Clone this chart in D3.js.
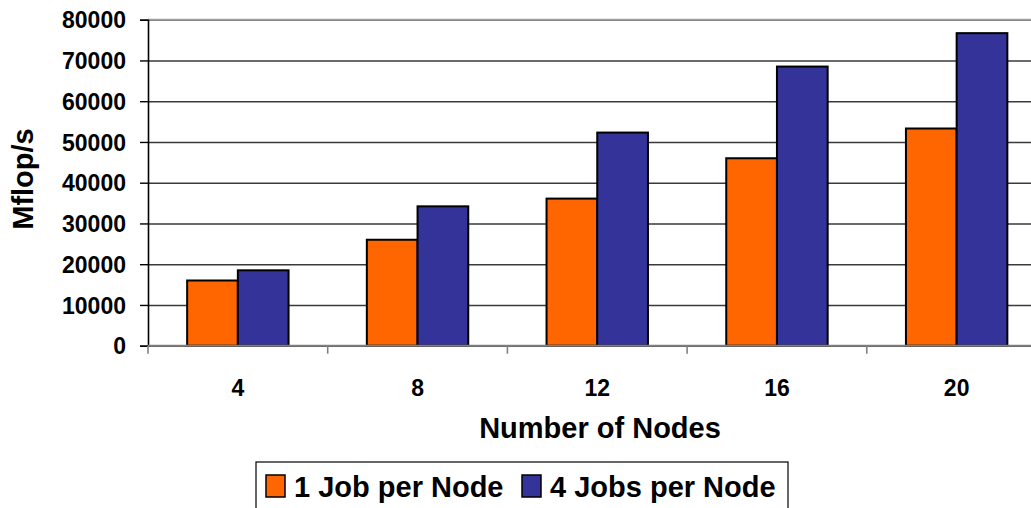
<!DOCTYPE html>
<html>
<head>
<meta charset="utf-8">
<script src="https://cdnjs.cloudflare.com/ajax/libs/d3/7.8.5/d3.min.js"></script>
<style>
  body { margin: 0; background: #fff; }
  svg { display: block; }
  svg text { font-family: "Liberation Sans", Arial, sans-serif; font-weight: bold; fill: #000; }
</style>
</head>
<body>
<div id="chart"></div>
<script>
// data
var nodes = ["4", "8", "12", "16", "20"];
var seriesNames = ["1 Job per Node", "4 Jobs per Node"];
var oneJob = [16000, 26000, 36100, 46000, 53300];
var fourJobs = [18500, 34200, 52300, 68500, 76700];
var yTicks = [0, 10000, 20000, 30000, 40000, 50000, 60000, 70000, 80000];
var colors = ["#ff6600", "#333399"];

var width = 1031,
  height = 508;
var margin = { left: 148, top: 19.7, right: -15.5, bottom: 162.3 };
var innerWidth = width - margin.left - margin.right;
var innerHeight = height - margin.top - margin.bottom;

var rows = nodes.map(function (n, i) {
  return { node: n, values: [oneJob[i], fourJobs[i]] };
});

var x0 = d3.scaleBand().domain(nodes).range([0, innerWidth]);
var x1 = d3.scaleBand().domain(seriesNames).range([0, x0.bandwidth()]).paddingOuter(0.772);
var y = d3.scaleLinear().domain([0, 80000]).range([innerHeight, 0]);
var color = d3.scaleOrdinal().domain(seriesNames).range(colors);

var svg = d3
  .select("#chart")
  .append("svg")
  .attr("width", width)
  .attr("height", height)
  .attr("overflow", "hidden");

var g = svg.append("g").attr("transform", "translate(" + margin.left + "," + margin.top + ")");

// gridlines (no labels)
g.append("g")
  .attr("class", "grid")
  .call(d3.axisLeft(y).tickValues(yTicks).tickSize(-innerWidth).tickFormat(""))
  .call(function (s) {
    s.select(".domain").remove();
    s.selectAll("text").remove();
    s.selectAll("line").attr("stroke", "#3a3a3a").attr("stroke-width", 1.4);
  });

// top border of plot area
g.append("line")
  .attr("x1", 0).attr("x2", innerWidth)
  .attr("y1", y(80000)).attr("y2", y(80000))
  .attr("stroke", "#a0a0a0").attr("stroke-width", 2);

// bars
var grp = g.selectAll(".grp").data(rows).enter().append("g")
  .attr("transform", function (d) { return "translate(" + x0(d.node) + ",0)"; });

grp.selectAll("rect")
  .data(function (d) {
    return seriesNames.map(function (s, i) { return { key: s, value: d.values[i] }; });
  })
  .enter()
  .append("rect")
  .attr("x", function (d) { return x1(d.key); })
  .attr("width", x1.bandwidth())
  .attr("y", function (d) { return y(d.value); })
  .attr("height", function (d) { return innerHeight - y(d.value); })
  .attr("fill", function (d) { return color(d.key); })
  .attr("stroke", "#000")
  .attr("stroke-width", 2);

// y axis
var yAxis = g.append("g")
  .call(d3.axisLeft(y).tickValues(yTicks).tickSize(8).tickPadding(14).tickFormat(d3.format("d")));
yAxis.attr("font-family", null);
yAxis.select(".domain").attr("stroke", "#000").attr("stroke-width", 1.6);
yAxis.selectAll("line").attr("stroke", "#000").attr("stroke-width", 1.4);
yAxis.selectAll("text").attr("font-size", 23).attr("dy", "0.36em");

// x axis line and boundary ticks
var xAxis = g.append("g").attr("transform", "translate(0," + innerHeight + ")");
xAxis.append("line")
  .attr("x1", 0).attr("x2", innerWidth)
  .attr("stroke", "#808080").attr("stroke-width", 2);
xAxis.selectAll(".bt")
  .data(nodes.concat(["end"]))
  .enter()
  .append("line")
  .attr("x1", function (d) { return d === "end" ? innerWidth : x0(d); })
  .attr("x2", function (d) { return d === "end" ? innerWidth : x0(d); })
  .attr("y1", 0).attr("y2", 8)
  .attr("stroke", "#808080").attr("stroke-width", 1.6);

// category labels
var xl = g.append("g").attr("transform", "translate(0," + innerHeight + ")")
  .call(d3.axisBottom(x0).tickSize(0).tickPadding(34));
xl.attr("font-family", null);
xl.select(".domain").remove();
xl.selectAll("text").attr("font-size", 23);

// axis titles
svg.append("text")
  .attr("transform", "translate(33,179) rotate(-90)")
  .attr("text-anchor", "middle")
  .attr("font-size", 29)
  .text("Mflop/s");

svg.append("text")
  .attr("x", 600)
  .attr("y", 438)
  .attr("text-anchor", "middle")
  .attr("font-size", 29)
  .text("Number of Nodes");

// legend
var legend = svg.append("g");
legend.append("rect")
  .attr("x", 256).attr("y", 462)
  .attr("width", 532).attr("height", 60)
  .attr("fill", "#fff").attr("stroke", "#000").attr("stroke-width", 1.2);

var legX = [266, 522];
var item = legend.selectAll(".item").data(seriesNames).enter().append("g")
  .attr("transform", function (d, i) { return "translate(" + legX[i] + ",475)"; });
item.append("rect")
  .attr("width", 19).attr("height", 22)
  .attr("fill", function (d) { return color(d); })
  .attr("stroke", "#000").attr("stroke-width", 1.5);
item.append("text")
  .attr("x", 28).attr("y", 22)
  .attr("font-size", 29)
  .text(function (d) { return d; });
</script>
</body>
</html>
